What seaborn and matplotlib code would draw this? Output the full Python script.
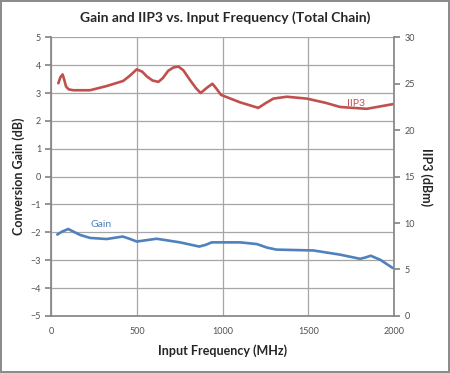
import numpy as np
import pandas as pd
import seaborn as sns
import matplotlib
matplotlib.use("Agg")
import matplotlib.pyplot as plt

# values
iip3_freq = [40, 52, 65, 75, 85, 100, 127, 225, 322, 419, 460, 498, 530, 556, 590, 624,
             650, 682, 712, 741, 770, 809, 845, 871, 910, 940, 962, 990, 1101, 1208,
             1250, 1296, 1374, 1491, 1600, 1685, 1841, 1993]
iip3_dbm = [25.05, 25.7, 26.0, 25.4, 24.7, 24.4, 24.3, 24.3, 24.75, 25.3, 25.9, 26.55,
            26.3, 25.8, 25.35, 25.2, 25.6, 26.4, 26.75, 26.85, 26.45, 25.4, 24.5, 24.0,
            24.6, 25.0, 24.5, 23.8, 23.0, 22.4, 22.9, 23.4, 23.6, 23.4, 22.95, 22.5,
            22.3, 22.8]

gain_freq = [34, 60, 98, 130, 166, 225, 322, 416, 460, 498, 614, 751, 863, 900, 936,
             1101, 1199, 1260, 1315, 1529, 1685, 1802, 1835, 1864, 1919, 1993]
gain_db = [-2.08, -1.98, -1.88, -1.98, -2.09, -2.20, -2.24, -2.15, -2.24, -2.33, -2.23,
           -2.36, -2.51, -2.45, -2.36, -2.36, -2.42, -2.55, -2.62, -2.65, -2.80, -2.95,
           -2.90, -2.84, -2.98, -3.28]

gain_ticks = list(range(-5, 6))
iip3_ticks = list(range(0, 31, 5))
freq_ticks = [0, 500, 1000, 1500, 2000]

red = "#C0504D"
blue = "#4F81BD"

sns.set_theme(style="white")
plt.rcParams['font.family'] = ['Lato', 'DejaVu Sans']

gain_df = pd.DataFrame({"freq": gain_freq, "gain": gain_db})
iip3_df = pd.DataFrame({"freq": iip3_freq, "iip3": iip3_dbm})

fig = plt.figure(figsize=(4.5, 3.73), dpi=100)
fig.patch.set_edgecolor("#8c8c8c")
fig.patch.set_linewidth(1.5)
ax = fig.add_axes([0.1144, 0.153, 0.761, 0.747])
ax2 = ax.twinx()

sns.lineplot(data=gain_df, x="freq", y="gain", ax=ax, color=blue, linewidth=1.9,
             solid_joinstyle="round", solid_capstyle="round")
sns.lineplot(data=iip3_df, x="freq", y="iip3", ax=ax2, color=red, linewidth=1.9,
             solid_joinstyle="round", solid_capstyle="round")

ax.set_xlim(0, 2000)
ax.set_ylim(-5, 5)
ax2.set_ylim(0, 30)
ax.set_xticks(freq_ticks)
ax.set_yticks(gain_ticks)
ax2.set_yticks(iip3_ticks)

ax.grid(True, color="#a6a6a6", linewidth=0.9)
ax.set_axisbelow(True)
for a in (ax, ax2):
    for s in a.spines.values():
        s.set_visible(False)
ax.spines["left"].set_visible(True)
ax.spines["left"].set_color("#868686")
ax2.spines["right"].set_visible(True)
ax2.spines["right"].set_color("#868686")
ax.spines["bottom"].set_visible(True)
ax.spines["bottom"].set_color("#868686")

ax.tick_params(axis="y", length=4, color="#868686", labelsize=6.5, labelcolor="#505050", left=True)
ax.tick_params(axis="x", length=0, labelsize=6.5, labelcolor="#505050", pad=8)
ax2.tick_params(axis="y", length=4, color="#868686", labelsize=6.5, labelcolor="#505050", right=True)

ax.set_xlabel("Input Frequency (MHz)", fontsize=9, fontweight="bold", labelpad=6)
ax.set_ylabel("Conversion Gain (dB)", fontsize=9, fontweight="bold", labelpad=4)
ax2.set_ylabel("IIP3 (dBm)", fontsize=9, fontweight="bold", rotation=270, labelpad=13)
fig.suptitle("Gain and IIP3 vs. Input Frequency (Total Chain)", fontsize=10,
             fontweight="bold", y=0.97)

ax.text(290, -1.73, "Gain", color=blue, fontsize=7.5, ha="center", va="center")
ax2.text(1780, 22.9, "IIP3", color=red, fontsize=7.5, ha="center", va="center")

fig.savefig("out.png", dpi=100)
